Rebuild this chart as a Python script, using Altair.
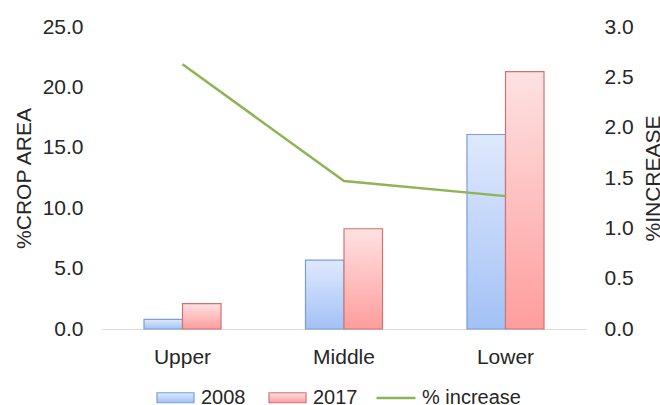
import altair as alt
import pandas as pd

# Share of crop area by zone, 2008 vs 2017, with the relative increase
zones = ["Upper", "Middle", "Lower"]
area_2008 = [0.8, 5.7, 16.1]
area_2017 = [2.1, 8.3, 21.3]
pct_increase = [2.63, 1.47, 1.32]

years = ["2008", "2017"]

bars = pd.DataFrame({
    "zone": zones * 2,
    "year": ["2008"] * 3 + ["2017"] * 3,
    "area": area_2008 + area_2017,
})
line = pd.DataFrame({
    "zone": zones,
    "series": ["% increase"] * 3,
    "increase": pct_increase,
})

FONT = "Liberation Sans"
TEXT = "#262626"
BLUE_EDGE = "#7b9fd4"
RED_EDGE = "#d27272"
GREEN = "#8db456"


def gradient_expr(top, bottom):
    # vertical light-to-dark gradient, written as a Vega expression object
    return alt.ExprRef(
        expr="{gradient: 'linear', x1: 0, y1: 0, x2: 0, y2: 1, stops: ["
        f"{{offset: 0, color: '{top}'}}, {{offset: 1, color: '{bottom}'}}]}}"
    )


fill_scale = alt.Scale(
    domain=years,
    range=[gradient_expr("#dfe9fd", "#a3c1f6"), gradient_expr("#fee2e2", "#ff9d9d")],
)
edge_scale = alt.Scale(domain=years, range=[BLUE_EDGE, RED_EDGE])

RECT = "M-1,-0.27L1,-0.27L1,0.27L-1,0.27Z"

bar_legend = alt.Legend(
    title=None, orient="none", direction="horizontal",
    legendX=54, legendY=351,
    symbolType=RECT, symbolSize=1369, symbolStrokeWidth=1.2, symbolOpacity=1,
    # swatch outline follows the bar edge colour of each year
    symbolStrokeColor=alt.ExprRef(
        expr=f"datum.value === '2008' ? '{BLUE_EDGE}' : '{RED_EDGE}'"
    ),
    labelFont=FONT, labelFontSize=20, labelColor=TEXT, labelOffset=6,
    columnPadding=20,
)
line_legend = alt.Legend(
    title=None, orient="none", direction="horizontal",
    legendX=273, legendY=350,
    symbolType="stroke", symbolSize=1521, symbolStrokeWidth=2.5,
    labelFont=FONT, labelFontSize=20, labelColor=TEXT, labelOffset=5,
)

x_enc = alt.X(
    "zone:N",
    sort=zones,
    scale=alt.Scale(paddingInner=0.523, paddingOuter=0.26),
    axis=alt.Axis(
        title=None, labelAngle=0, ticks=False, labelPadding=17,
        domainColor="#d9d9d9", domainWidth=1,
        labelFont=FONT, labelFontSize=21, labelColor=TEXT,
    ),
)

bar_layer = alt.Chart(bars).mark_bar(strokeWidth=1.2).encode(
    x=x_enc,
    xOffset=alt.XOffset("year:N", sort=years, scale=alt.Scale(paddingInner=0, paddingOuter=0)),
    y=alt.Y(
        "area:Q",
        scale=alt.Scale(domain=[0, 25], nice=False),
        axis=alt.Axis(
            title="%CROP AREA", values=[0, 5, 10, 15, 20, 25], format=".1f",
            grid=False, ticks=False, domain=False, labelPadding=19,
            labelFont=FONT, labelFontSize=21, labelColor=TEXT,
            titleFont=FONT, titleFontSize=21, titleFontWeight="normal",
            titleColor=TEXT, titlePadding=8,
        ),
    ),
    fill=alt.Fill("year:N", scale=fill_scale, legend=bar_legend),
    stroke=alt.Stroke("year:N", scale=edge_scale, legend=None),
)

line_layer = alt.Chart(line).mark_line(strokeWidth=2.5).encode(
    x=x_enc,
    y=alt.Y(
        "increase:Q",
        scale=alt.Scale(domain=[0, 3], nice=False),
        axis=alt.Axis(
            title="%INCREASE", orient="right", values=[0, 0.5, 1, 1.5, 2, 2.5, 3],
            format=".1f", grid=False, ticks=False, domain=False, labelPadding=18,
            labelFont=FONT, labelFontSize=21, labelColor=TEXT,
            titleFont=FONT, titleFontSize=21, titleFontWeight="normal",
            titleColor=TEXT, titlePadding=30, titleAngle=270,
        ),
    ),
    stroke=alt.Stroke(
        "series:N",
        scale=alt.Scale(domain=["% increase"], range=[GREEN]),
        legend=line_legend,
    ),
)

chart = (
    alt.layer(bar_layer, line_layer)
    .resolve_scale(y="independent", stroke="independent")
    .properties(
        width=484,
        height=302,
        padding={"left": 102, "top": 27, "right": 74, "bottom": 76},
        autosize=alt.AutoSizeParams(type="none"),
        background="white",
    )
    .configure_view(stroke=None)
)

chart.save("out.html", embed_options={"renderer": "svg", "actions": False})
